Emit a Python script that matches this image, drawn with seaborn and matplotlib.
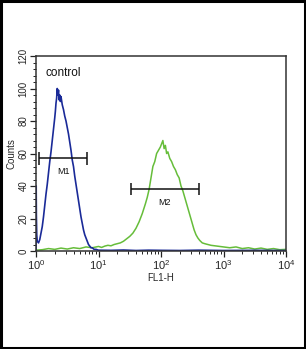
import numpy as np
import pandas as pd
import matplotlib
matplotlib.use("Agg")
import matplotlib.pyplot as plt
import seaborn as sns
from matplotlib.ticker import AutoMinorLocator, LogLocator, NullFormatter
from matplotlib.patches import Rectangle

# ---- data (log10 of FL1-H channel, counts) ----
blue_log = [0.0, 0.003, 0.006, 0.012, 0.02, 0.04, 0.06, 0.08, 0.10, 0.12, 0.14, 0.16,
            0.18, 0.20, 0.22, 0.24, 0.26, 0.28, 0.30, 0.31, 0.32, 0.33, 0.34, 0.35,
            0.36, 0.37, 0.38, 0.39, 0.40, 0.42, 0.44, 0.46, 0.48, 0.50, 0.52, 0.54,
            0.56, 0.58, 0.60, 0.62, 0.64, 0.66, 0.68, 0.70, 0.72, 0.74, 0.76, 0.78,
            0.80, 0.82, 0.84, 0.86, 0.88, 0.90, 0.93, 0.96, 1.0, 1.2, 1.4, 1.6, 1.8,
            2.0, 2.3, 2.6, 3.0, 3.5, 4.0]
blue_counts = [0, 40, 22, 10, 6, 5, 7, 11, 15, 21, 28, 35,
               41, 48, 55, 61, 68, 75, 82, 86, 91, 94, 100, 96,
               99, 93, 96, 92, 95, 90, 87, 83, 80, 76, 72, 67,
               62, 56, 52, 46, 41, 36, 31, 26, 21, 17, 13, 10,
               8, 6, 4, 3, 2, 2, 1, 1, 0.5, 0.4, 0.6, 0.3, 0.5,
               0.4, 0.3, 0.5, 0.3, 0.4, 0.3]

green_log = [0.0, 0.1, 0.2, 0.3, 0.4, 0.5, 0.6, 0.7, 0.8, 0.9, 1.0, 1.05, 1.1, 1.15,
             1.2, 1.25, 1.3, 1.35, 1.4, 1.45, 1.5, 1.55, 1.6, 1.65, 1.7, 1.75, 1.78,
             1.81, 1.84, 1.87, 1.90, 1.93, 1.96, 1.99, 2.01, 2.03, 2.05, 2.07, 2.09,
             2.11, 2.14, 2.17, 2.20, 2.23, 2.26, 2.29, 2.32, 2.35, 2.38, 2.41, 2.44,
             2.47, 2.50, 2.53, 2.56, 2.59, 2.62, 2.66, 2.70, 2.75, 2.8, 2.9, 3.0, 3.1,
             3.2, 3.3, 3.4, 3.5, 3.6, 3.7, 3.8, 3.9, 4.0]
green_counts = [0.5, 0.8, 1.5, 1, 1.8, 1.2, 2, 1.5, 2.5, 2, 2.8, 2.2, 3, 3.5,
                3.2, 4, 4.5, 5, 6, 7.5, 9, 11, 14, 18, 23, 29, 33,
                38, 45, 52, 55, 60, 62, 64, 66, 68, 63, 65, 60,
                61, 57, 55, 52, 50, 47, 45, 40, 37, 33, 29, 25,
                21, 17, 13, 10, 8, 6.5, 5, 4.5, 4, 3.5, 3, 2.5, 2,
                2.5, 1.5, 2, 1.2, 1.8, 1, 1.5, 0.8, 1]

markers = ["M1", "M2"]
marker_lo = [10**0.05, 10**1.52]
marker_hi = [10**0.82, 10**2.60]
marker_y = [57, 38]

x_ticks = [1, 10, 100, 1000, 10000]
y_ticks = [0, 20, 40, 60, 80, 100, 120]

blue_c = "#1a2a98"
green_c = "#66bd3a"

sns.set_style("ticks")
plt.rcParams["font.family"] = ["Liberation Sans", "DejaVu Sans"]
plt.rcParams["xtick.minor.visible"] = True
plt.rcParams["ytick.minor.visible"] = True

fig = plt.figure(figsize=(3.06, 3.49), dpi=100)
ax = fig.add_axes([36/306, 1 - 251/349, 250/306, 195/349])

df_g = pd.DataFrame({"FL1": np.power(10.0, green_log), "Counts": green_counts})
df_b = pd.DataFrame({"FL1": np.power(10.0, blue_log), "Counts": blue_counts})
sns.lineplot(data=df_g, x="FL1", y="Counts", ax=ax, color=green_c, lw=1.1,
             sort=False, estimator=None)
sns.lineplot(data=df_b, x="FL1", y="Counts", ax=ax, color=blue_c, lw=1.2,
             sort=False, estimator=None)

ax.set_xscale("log")
ax.set_xlim(1, 10000)
ax.set_ylim(0, 120)
ax.set_xticks(x_ticks)
ax.xaxis.set_minor_locator(LogLocator(base=10, subs=np.arange(2, 10)))
ax.xaxis.set_minor_formatter(NullFormatter())
ax.set_yticks(y_ticks)
ax.yaxis.set_minor_locator(AutoMinorLocator(5))

for lab in ax.get_yticklabels():
    lab.set_rotation(90)
    lab.set_va("center")
ax.tick_params(axis="y", which="major", labelsize=7, length=4, width=0.9, pad=1.5,
               color="#222222")
ax.tick_params(axis="y", which="minor", length=2.5, width=0.7, color="#222222")
ax.tick_params(axis="x", which="major", labelsize=8, length=4, width=0.9, pad=1.5,
               color="#222222")
ax.tick_params(axis="x", which="minor", length=2.5, width=0.7, color="#222222")

ax.set_xlabel("FL1-H", fontsize=7, labelpad=0.5)
ax.set_ylabel("Counts", fontsize=7, labelpad=1)

for sp in ax.spines.values():
    sp.set_color("#333333")
    sp.set_linewidth(1.1)

for name, lo, hi, y in zip(markers, marker_lo, marker_hi, marker_y):
    ax.hlines(y, lo, hi, color="#111111", lw=1.1)
    ax.vlines([lo, hi], y - 3.8, y + 3.8, color="#111111", lw=1.1)
    ax.text(np.sqrt(lo * hi), y - 8, name, fontsize=6.5, ha="center", va="center",
            color="#111111")

ax.text(10**0.16, 109.5, "control", fontsize=8.5, ha="left", va="center",
        color="#111111")

fig.patches.append(Rectangle((0.002, 0.002), 0.996, 0.996, transform=fig.transFigure,
                             fill=False, edgecolor="black", lw=2.2))

fig.savefig("out.png", dpi=100)
